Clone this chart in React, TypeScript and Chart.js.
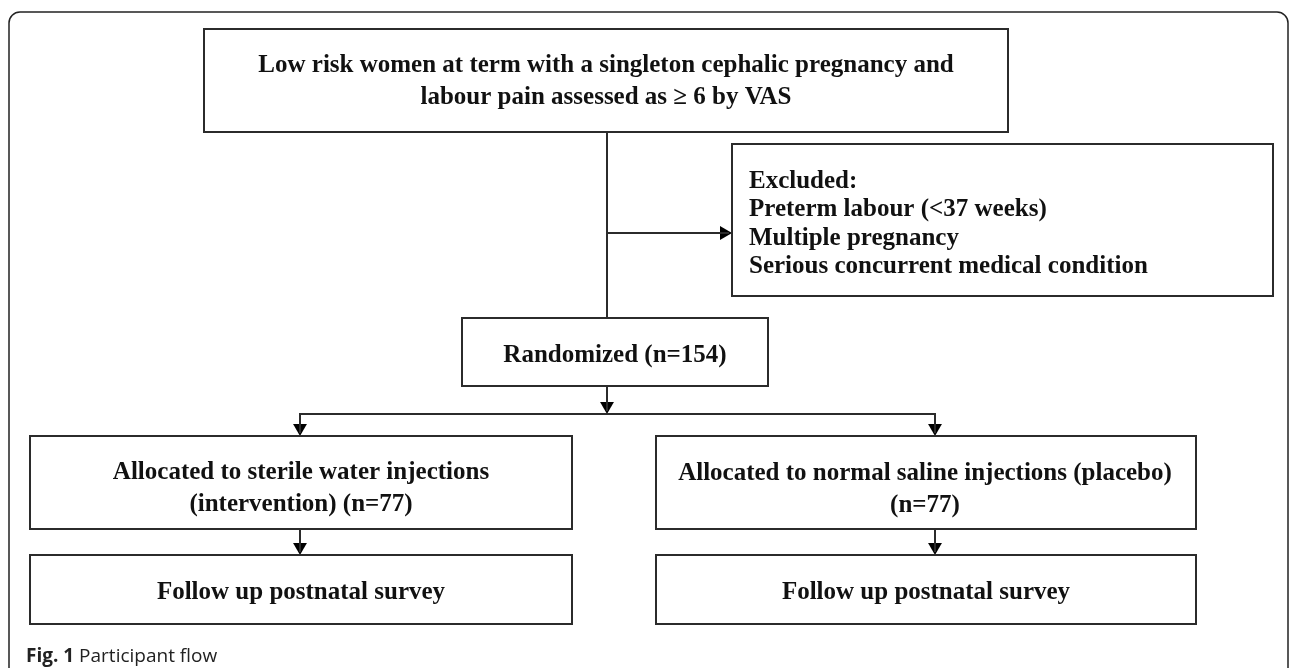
import React, { useEffect, useRef } from "react";
import { Chart, registerables } from "chart.js";

Chart.register(...registerables);

// ---- content (data) ----
const eligibleLines = [
  "Low risk women at term with a singleton cephalic pregnancy and",
  "labour pain assessed as \u2265 6 by VAS",
];
const excludedTitle = "Excluded:";
const exclusionReasons = [
  "Preterm labour (<37 weeks)",
  "Multiple pregnancy",
  "Serious concurrent medical condition",
];
const randomizedN = 154;
const groupNames = ["sterile water injections", "normal saline injections"];
const groupN = [77, 77];
const followUpLabel = "Follow up postnatal survey";
const captionBold = "Fig. 1";
const captionText = " Participant flow";

// ---- layout (virtual 1292 x 668 space) ----
const W = 1292;
const H = 668;
type Rect = [number, number, number, number];
const boxEligible: Rect = [204, 29, 1008, 132];
const boxExcluded: Rect = [732, 144, 1273, 296];
const boxRandom: Rect = [462, 318, 768, 386];
const boxAllocA: Rect = [30, 436, 572, 529];
const boxAllocB: Rect = [656, 436, 1196, 529];
const boxFollowA: Rect = [30, 555, 572, 624];
const boxFollowB: Rect = [656, 555, 1196, 624];

const mainX = 607;
const branchY = 414;
const armA = 300;
const armB = 935;
const excludeY = 233;

const FONT = 'bold 25px "Liberation Serif", "Times New Roman", serif';
const LINE = "#2b2b2b";
const AR = 8; // arrowhead radius
const TY = 3; // text vertical nudge

function rectPoints(r: Rect) {
  return [
    { x: r[0], y: r[1] },
    { x: r[2], y: r[1] },
    { x: r[2], y: r[3] },
    { x: r[0], y: r[3] },
    { x: r[0], y: r[1] },
  ];
}

function lineDs(points: { x: number; y: number }[]) {
  return {
    type: "line" as const,
    data: points,
    showLine: true,
    borderColor: LINE,
    borderWidth: 2,
    borderCapStyle: "square",
    borderJoinStyle: "miter",
    pointRadius: 0,
    fill: false,
    tension: 0,
    clip: false,
  };
}

export default function App() {
  const ref = useRef<HTMLCanvasElement | null>(null);

  useEffect(() => {
    const canvas = ref.current;
    if (!canvas) return;

    const boxes = [boxEligible, boxExcluded, boxRandom, boxAllocA, boxAllocB, boxFollowA, boxFollowB];
    const connectors = [
      [{ x: mainX, y: boxEligible[3] }, { x: mainX, y: boxRandom[1] }],
      [{ x: mainX, y: excludeY }, { x: boxExcluded[0] - 4, y: excludeY }],
      [{ x: mainX, y: boxRandom[3] }, { x: mainX, y: branchY - 4 }],
      [{ x: armA, y: boxAllocA[1] - 4 }, { x: armA, y: branchY }, { x: armB, y: branchY }, { x: armB, y: boxAllocB[1] - 4 }],
      [{ x: armA, y: boxAllocA[3] }, { x: armA, y: boxFollowA[1] - 4 }],
      [{ x: armB, y: boxAllocB[3] }, { x: armB, y: boxFollowB[1] - 4 }],
    ];
    const arrowDown = [
      { x: mainX, y: branchY - AR },
      { x: armA, y: boxAllocA[1] - AR },
      { x: armB, y: boxAllocB[1] - AR },
      { x: armA, y: boxFollowA[1] - AR },
      { x: armB, y: boxFollowB[1] - AR },
    ];
    const arrowRight = [{ x: boxExcluded[0] - AR, y: excludeY }];

    const datasets: any[] = [
      ...boxes.map((b) => lineDs(rectPoints(b))),
      ...connectors.map((c) => lineDs(c)),
      {
        type: "scatter",
        data: arrowDown,
        pointStyle: "triangle",
        rotation: 180,
        pointRadius: AR,
        backgroundColor: "#000",
        borderColor: "#000",
        borderWidth: 0,
        clip: false,
      },
      {
        type: "scatter",
        data: arrowRight,
        pointStyle: "triangle",
        rotation: 90,
        pointRadius: AR,
        backgroundColor: "#000",
        borderColor: "#000",
        borderWidth: 0,
        clip: false,
      },
    ];

    const textPlugin = {
      id: "flowText",
      afterDatasetsDraw(chart: any) {
        const { ctx, scales } = chart;
        const px = (v: number) => scales.x.getPixelForValue(v);
        const py = (v: number) => scales.y.getPixelForValue(v);
        ctx.save();
        ctx.fillStyle = "#111";
        ctx.font = FONT;
        ctx.textBaseline = "middle";

        const centered = (r: Rect, lines: string[], ys: number[], cx?: number) => {
          ctx.textAlign = "center";
          const x = cx !== undefined ? cx : (r[0] + r[2]) / 2;
          lines.forEach((l, i) => ctx.fillText(l, px(x), py(ys[i] + TY)));
        };

        centered(boxEligible, eligibleLines, [63, 95]);
        ctx.textAlign = "left";
        [excludedTitle, ...exclusionReasons].forEach((l, i) => {
          ctx.fillText(l, px(boxExcluded[0] + 17), py([179, 207, 236, 264][i] + TY));
        });
        centered(boxRandom, [`Randomized (n=${randomizedN})`], [353]);
        centered(boxAllocA, [`Allocated to ${groupNames[0]}`, `(intervention) (n=${groupN[0]})`], [470, 502]);
        centered(boxAllocB, [`Allocated to ${groupNames[1]} (placebo)`, `(n=${groupN[1]})`], [471, 503], 925);
        centered(boxFollowA, [followUpLabel], [590]);
        centered(boxFollowB, [followUpLabel], [590]);

        // outer frame (open at bottom)
        const l = px(9), t = py(12), r = px(1288), b = py(668), rad = 11;
        ctx.strokeStyle = "#222";
        ctx.lineWidth = 1.5;
        ctx.beginPath();
        ctx.moveTo(l, b);
        ctx.lineTo(l, t + rad);
        ctx.arcTo(l, t, l + rad, t, rad);
        ctx.lineTo(r - rad, t);
        ctx.arcTo(r, t, r, t + rad, rad);
        ctx.lineTo(r, b);
        ctx.stroke();

        // caption
        ctx.textAlign = "left";
        ctx.textBaseline = "alphabetic";
        ctx.fillStyle = "#222";
        ctx.font = 'bold 19px "Open Sans", sans-serif';
        const cx0 = px(26), cy0 = py(662);
        ctx.fillText(captionBold, cx0, cy0);
        const bw = ctx.measureText(captionBold).width;
        ctx.font = '19px "Open Sans", sans-serif';
        ctx.fillText(captionText, cx0 + bw, cy0);
        ctx.restore();
      },
    };

    const chart = new Chart(canvas, {
      type: "scatter",
      data: { datasets },
      options: {
        animation: false,
        responsive: false,
        maintainAspectRatio: false,
        devicePixelRatio: 1,
        events: [],
        layout: { padding: 0, autoPadding: false },
        plugins: { legend: { display: false }, tooltip: { enabled: false } },
        scales: {
          x: { type: "linear", min: 0, max: W, display: false },
          y: { type: "linear", min: 0, max: H, reverse: true, display: false },
        },
      },
      plugins: [textPlugin],
    });
    return () => chart.destroy();
  }, []);

  return (
    <div style={{ position: "fixed", left: 0, top: 0, width: W, height: H, background: "#fff" }}>
      <canvas ref={ref} width={W} height={H} style={{ display: "block", width: W, height: H }} />
    </div>
  );
}
